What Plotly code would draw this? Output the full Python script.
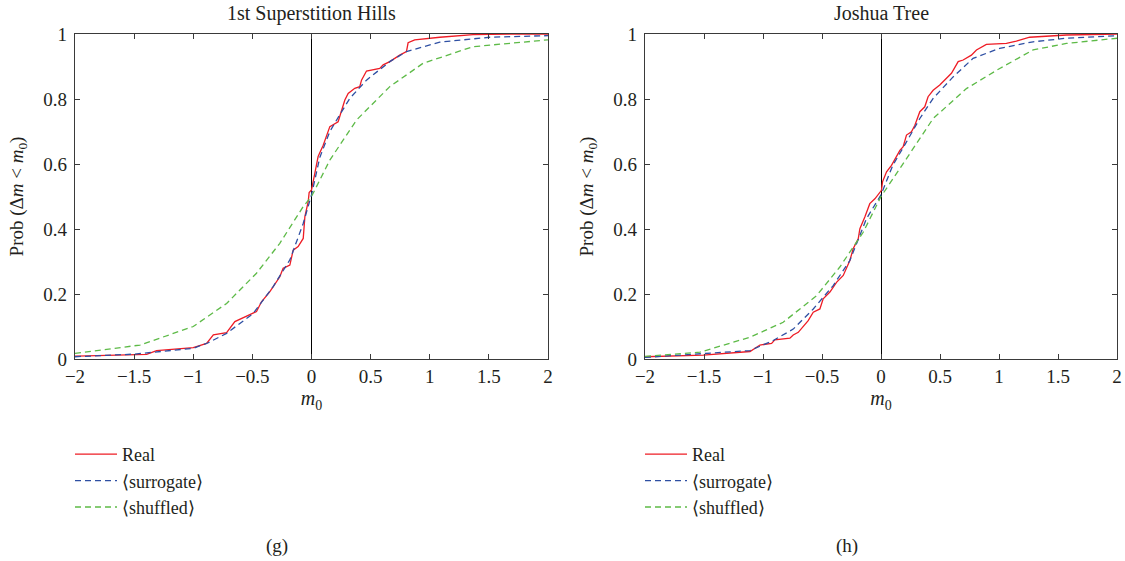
import plotly.graph_objects as go
from plotly.subplots import make_subplots

# ---------------- data ----------------
# Panel (g): 1st Superstition Hills
g_real_x = [-2.0, -1.986, -1.394, -1.31, -1.0, -0.887, -0.83, -0.718, -0.648, -0.535, -0.465, -0.423,
            -0.352, -0.268, -0.24, -0.183, -0.155, -0.113, -0.07, -0.056, -0.028, -0.02, 0.0, 0.028,
            0.056, 0.099, 0.127, 0.155, 0.225, 0.282, 0.31, 0.366, 0.408, 0.423, 0.465, 0.577, 0.606,
            0.662, 0.746, 0.803, 0.817, 0.873, 1.085, 1.366, 1.73, 2.0]
g_real_y = [0.009, 0.009, 0.014, 0.026, 0.035, 0.048, 0.074, 0.081, 0.115, 0.135, 0.146, 0.176,
            0.207, 0.253, 0.279, 0.289, 0.335, 0.346, 0.371, 0.438, 0.484, 0.512, 0.52, 0.571,
            0.623, 0.658, 0.689, 0.715, 0.730, 0.797, 0.817, 0.833, 0.838, 0.858, 0.886, 0.894, 0.905,
            0.915, 0.935, 0.946, 0.973, 0.982, 0.990, 0.998, 1.0, 1.0]
g_surr_x = [-2.0, -1.5, -1.0, -0.873, -0.718, -0.493, -0.324, -0.183, -0.07, 0.0, 0.07, 0.155,
            0.24, 0.324, 0.465, 0.662, 0.803, 1.085, 1.507, 2.0]
g_surr_y = [0.007, 0.015, 0.033, 0.05, 0.079, 0.14, 0.223, 0.305, 0.417, 0.505, 0.62, 0.70,
            0.752, 0.802, 0.858, 0.915, 0.946, 0.975, 0.990, 0.995]
g_shuf_x = [-2.0, -1.45, -1.0, -0.718, -0.465, -0.268, -0.07, 0.0, 0.155, 0.38, 0.662, 0.944,
            1.366, 2.0]
g_shuf_y = [0.017, 0.043, 0.10, 0.171, 0.264, 0.356, 0.469, 0.50, 0.612, 0.735, 0.838, 0.91,
            0.961, 0.982]

# Panel (h): Joshua Tree
h_real_x = [-2.0, -1.506, -1.11, -1.026, -0.927, -0.9, -0.772, -0.744, -0.701, -0.617, -0.574,
            -0.518, -0.49, -0.433, -0.377, -0.32, -0.264, -0.236, -0.193, -0.179, -0.137, -0.095,
            -0.052, 0.004, 0.013, 0.047, 0.089, 0.131, 0.16, 0.188, 0.216, 0.258, 0.287, 0.329,
            0.371, 0.399, 0.442, 0.498, 0.555, 0.597, 0.654, 0.696, 0.766, 0.809, 0.893, 1.063,
            1.147, 1.26, 1.571, 2.0]
h_real_y = [0.007, 0.012, 0.023, 0.043, 0.048, 0.059, 0.064, 0.074, 0.082, 0.118, 0.144,
            0.154, 0.185, 0.206, 0.236, 0.257, 0.303, 0.339, 0.370, 0.401, 0.437, 0.478,
            0.493, 0.519, 0.545, 0.576, 0.596, 0.622, 0.642, 0.653, 0.689, 0.699, 0.719, 0.761,
            0.776, 0.807, 0.827, 0.843, 0.863, 0.879, 0.915, 0.920, 0.935, 0.951, 0.968, 0.971,
            0.978, 0.99, 0.997, 1.0]
h_surr_x = [-2.0, -1.534, -1.11, -0.913, -0.744, -0.574, -0.405, -0.264, -0.123, 0.0, 0.10,
            0.216, 0.329, 0.442, 0.611, 0.78, 1.006, 1.289, 1.571, 2.0]
h_surr_y = [0.005, 0.015, 0.026, 0.057, 0.092, 0.154, 0.226, 0.303, 0.432, 0.505, 0.596,
            0.668, 0.740, 0.802, 0.868, 0.925, 0.956, 0.976, 0.987, 0.995]
h_shuf_x = [-2.0, -1.534, -1.11, -0.829, -0.546, -0.349, -0.151, 0.0, 0.16, 0.3, 0.442, 0.724,
            1.006, 1.289, 1.571, 2.0]
h_shuf_y = [0.008, 0.021, 0.067, 0.113, 0.195, 0.283, 0.39, 0.50, 0.586, 0.663, 0.74, 0.832,
            0.894, 0.951, 0.971, 0.987]

titles = ["1st Superstition Hills", "Joshua Tree"]
panel_labels = ["(g)", "(h)"]
series_names = ["Real", "\u27e8surrogate\u27e9", "\u27e8shuffled\u27e9"]
x_ticks = [-2, -1.5, -1, -0.5, 0, 0.5, 1, 1.5, 2]
y_ticks = [0, 0.2, 0.4, 0.6, 0.8, 1]

# ---------------- styling ----------------
FONT = "Liberation Serif"
TXT = "#231f20"
colors = ["#ee1c25", "#2e4fa3", "#5dba47"]
dashes = ["solid", "6px,4px", "6px,4px"]

fig = make_subplots(rows=1, cols=2)

panels = [
    (g_real_x, g_real_y, g_surr_x, g_surr_y, g_shuf_x, g_shuf_y),
    (h_real_x, h_real_y, h_surr_x, h_surr_y, h_shuf_x, h_shuf_y),
]
legend_ids = ["legend", "legend2"]
for p, data in enumerate(panels):
    xs = [data[0], data[2], data[4]]
    ys = [data[1], data[3], data[5]]
    for s in range(3):
        fig.add_trace(go.Scatter(
            x=xs[s], y=ys[s], mode="lines", name=series_names[s],
            line=dict(color=colors[s], width=1.3, dash=dashes[s]),
            legend=legend_ids[p], showlegend=True,
        ), row=1, col=p + 1)

axis_common = dict(
    showline=True, linecolor="#3a3a3a", linewidth=1.2, mirror="allticks",
    ticks="inside", ticklen=5, tickcolor="#3a3a3a", showgrid=False,
    tickfont=dict(family=FONT, size=19, color=TXT), automargin=False,
)
x_domains = [[75 / 1125, 548 / 1125], [645 / 1125, 1117 / 1125]]
y_domain = [(561 - 359) / 561, (561 - 34) / 561]
for i in range(2):
    fig.update_xaxes(
        domain=x_domains[i], range=[-2, 2], tickvals=x_ticks,
        ticktext=[("\u2212" if v < 0 else "") + f"{abs(v):g}" for v in x_ticks],
        zeroline=True, zerolinecolor="#000000", zerolinewidth=1,
        title=dict(text="<i>m</i><sub>0</sub>", font=dict(family=FONT, size=20, color=TXT), standoff=5),
        row=1, col=i + 1, **axis_common)
    fig.update_yaxes(
        domain=y_domain, range=[0, 1], tickvals=y_ticks, ticklabelstandoff=3,
        ticktext=[f"{v:g}" for v in y_ticks], zeroline=False,
        title=dict(text="Prob (\u0394<i>m</i> &lt; <i>m</i><sub>0</sub>)",
                   font=dict(family=FONT, size=19, color=TXT), standoff=14),
        row=1, col=i + 1, **axis_common)

annotations = []
centers = [(x_domains[0][0] + x_domains[0][1]) / 2, (x_domains[1][0] + x_domains[1][1]) / 2]
for i in range(2):
    annotations.append(dict(text=titles[i], x=centers[i], y=1 - 13 / 561, xref="paper", yref="paper",
                            showarrow=False, xanchor="center", yanchor="middle",
                            font=dict(family=FONT, size=20, color=TXT)))
    annotations.append(dict(text=panel_labels[i], x=[277 / 1125, 847 / 1125][i], y=1 - 546 / 561,
                            xref="paper", yref="paper", showarrow=False, xanchor="center",
                            yanchor="middle", font=dict(family=FONT, size=19, color=TXT)))

legend_common = dict(
    yanchor="top", xanchor="left", y=1 - 436 / 561, bgcolor="rgba(0,0,0,0)",
    font=dict(family=FONT, size=18, color=TXT), tracegroupgap=0, itemwidth=42,
    traceorder="normal",
)
fig.update_layout(
    width=1125, height=561, margin=dict(l=0, r=0, t=0, b=0),
    paper_bgcolor="white", plot_bgcolor="white",
    annotations=annotations,
    legend=dict(x=70 / 1125, **legend_common),
    legend2=dict(x=640 / 1125, **legend_common),
    font=dict(family=FONT, color=TXT),
)

fig.write_html("out.html")
